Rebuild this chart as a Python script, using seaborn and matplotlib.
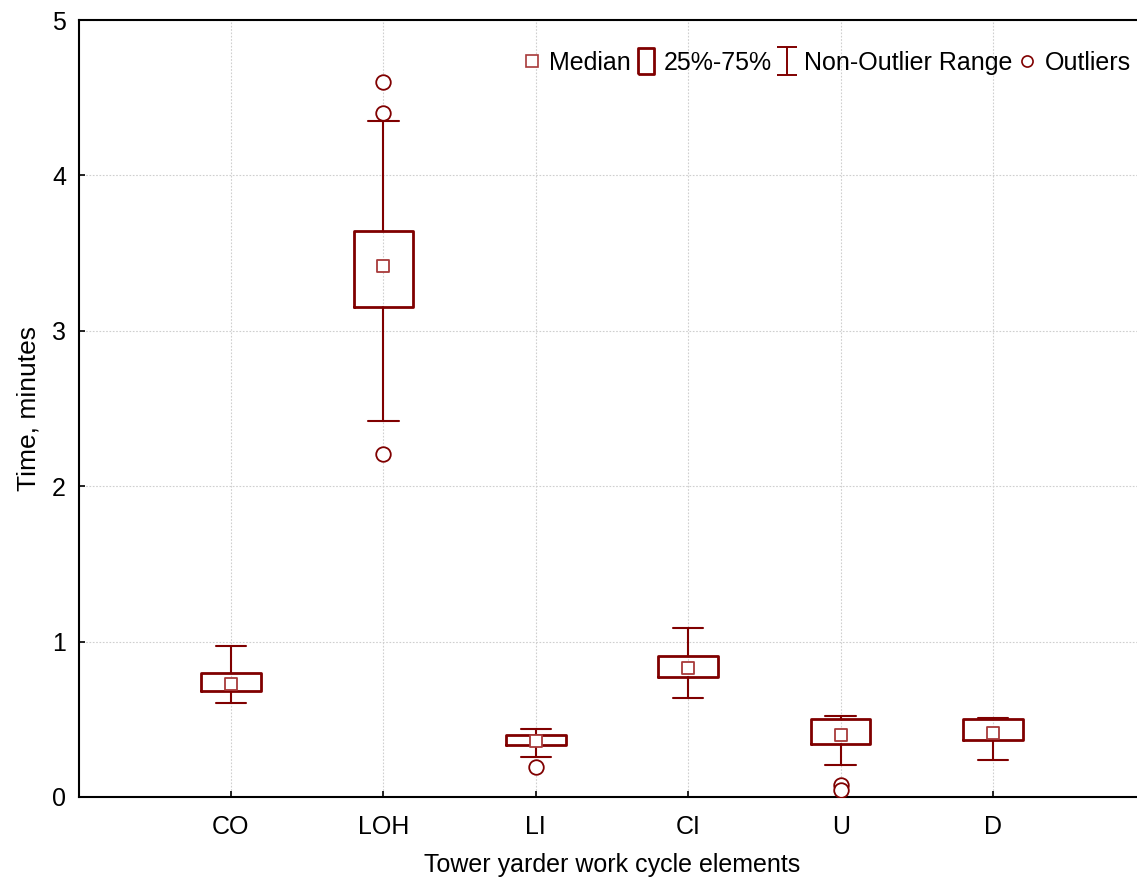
import numpy as np
import pandas as pd
import matplotlib.pyplot as plt
from matplotlib.lines import Line2D
from matplotlib.path import Path
import seaborn as sns

sns.set_theme(style="ticks")
plt.rcParams['font.family'] = ['Liberation Sans', 'DejaVu Sans']
plt.rcParams['text.color'] = 'black'
plt.rcParams['axes.labelcolor'] = 'black'

# values (minutes)
elements = ['CO', 'LOH', 'LI', 'CI', 'U', 'D']
medians = [0.73, 3.42, 0.36, 0.83, 0.40, 0.41]
q1 = [0.68, 3.15, 0.335, 0.77, 0.34, 0.37]
q3 = [0.80, 3.64, 0.40, 0.91, 0.50, 0.50]
whisk_lo = [0.605, 2.42, 0.26, 0.64, 0.205, 0.24]
whisk_hi = [0.97, 4.35, 0.44, 1.09, 0.52, 0.51]
outlier_elem = ['LOH', 'LOH', 'LOH', 'LI', 'U', 'U']
outlier_vals = [4.60, 4.40, 2.21, 0.19, 0.08, 0.045]

red = '#800000'
med_red = '#a83a3a'

fig = plt.figure(figsize=(11.37, 8.81), dpi=100)
ax = fig.add_axes([78.5 / 1137, 84 / 881, 1067 / 1137, 777 / 881])

stats = []
for i, name in enumerate(elements):
    stats.append(dict(label=name, med=medians[i], q1=q1[i], q3=q3[i],
                      whislo=whisk_lo[i], whishi=whisk_hi[i], fliers=[]))

ax.bxp(stats, positions=range(len(elements)), widths=0.39, capwidths=0.2,
       showfliers=False, patch_artist=False,
       boxprops=dict(color=red, linewidth=2.0),
       whiskerprops=dict(color=red, linewidth=1.5),
       capprops=dict(color=red, linewidth=1.5),
       medianprops=dict(linewidth=0), zorder=3)

pos = {name: i for i, name in enumerate(elements)}
med_df = pd.DataFrame({'x': range(len(elements)), 'y': medians})
sns.scatterplot(data=med_df, x='x', y='y', marker='s', s=80, facecolor='white',
                edgecolor=med_red, linewidth=1.3, ax=ax, zorder=4)

out_df = pd.DataFrame({'x': [pos[e] for e in outlier_elem], 'y': outlier_vals})
sns.scatterplot(data=out_df, x='x', y='y', marker='o', s=110, facecolor='white',
                edgecolor=red, linewidth=1.3, ax=ax, zorder=4)

ax.set_xlim(-1, 6)
ax.set_ylim(0, 5)
ax.set_xticks(range(len(elements)))
ax.set_xticklabels(elements)
ax.set_yticks([0, 1, 2, 3, 4, 5])
ax.grid(True, linestyle=(0, (1.5, 1.5)), color='#cfcfcf', linewidth=0.8, zorder=0)
ax.tick_params(direction='in', length=4, width=1.2, labelsize=18, colors='black')
ax.tick_params(axis='x', pad=13)
ax.tick_params(axis='y', pad=9)
for s in ax.spines.values():
    s.set_color('black')
    s.set_linewidth(1.5)

ax.set_xlabel('Tower yarder work cycle elements', fontsize=18, labelpad=10)
ax.set_ylabel('Time, minutes', fontsize=19, labelpad=8)

# legend handles mimicking the Statistica style
rect = Path([(-0.3, -0.5), (0.3, -0.5), (0.3, 0.5), (-0.3, 0.5), (-0.3, -0.5)])
ibeam = Path([(-0.35, 0.5), (0.35, 0.5), (0, 0.5), (0, -0.5), (-0.35, -0.5), (0.35, -0.5)],
             [Path.MOVETO, Path.LINETO, Path.MOVETO, Path.LINETO, Path.MOVETO, Path.LINETO])
handles = [
    Line2D([], [], linestyle='none', marker='s', markersize=9, markerfacecolor='white',
           markeredgecolor=med_red, markeredgewidth=1.2),
    Line2D([], [], linestyle='none', marker=rect, markersize=19, markerfacecolor='white',
           markeredgecolor=red, markeredgewidth=2.0),
    Line2D([], [], linestyle='none', marker=ibeam, markersize=20, markerfacecolor='none',
           markeredgecolor=red, markeredgewidth=1.4),
    Line2D([], [], linestyle='none', marker='o', markersize=8, markerfacecolor='white',
           markeredgecolor=red, markeredgewidth=1.2),
]
labels = ['Median', '25%-75%', 'Non-Outlier Range', 'Outliers']
fig.legend(handles, labels, loc='upper right', bbox_to_anchor=(1.008, 0.959), ncol=4,
           frameon=False, fontsize=18, handlelength=0.8, handletextpad=0.3,
           columnspacing=0.2, borderaxespad=0.2)

plt.savefig('out.png', dpi=100)
